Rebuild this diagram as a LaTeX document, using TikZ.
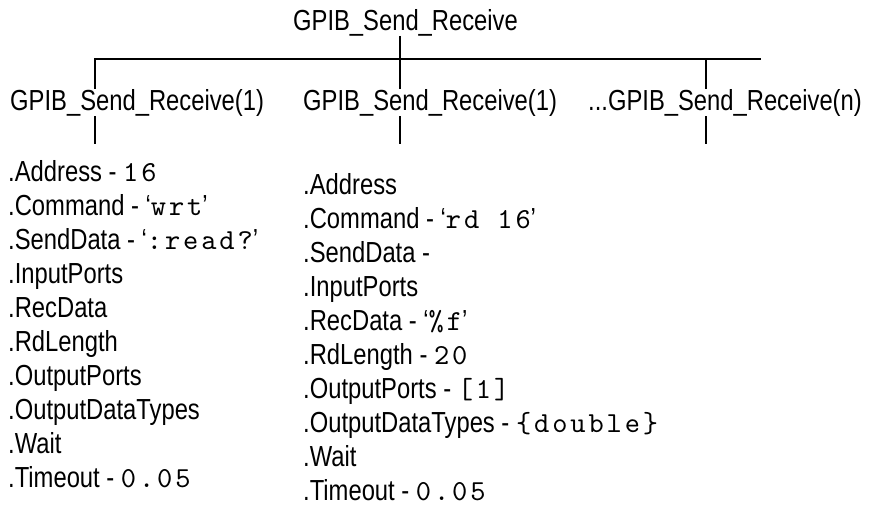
\documentclass[tikz,border=0pt]{standalone}
\usepackage{fontspec}
\setmainfont{Liberation Sans}[FakeStretch=0.82]
\newfontfamily\monofam{lmmono10-regular.otf}[LetterSpace=10]
\newcommand\mono[1]{{\monofam #1}}
\begin{document}
\begin{tikzpicture}[x=1pt,y=1pt,
  txt/.style={anchor=base west, inner sep=0pt, font=\fontsize{29}{29}\selectfont},
  hdr/.style={inner sep=0pt, font=\fontsize{29}{29}\selectfont},
  bar/.style={line width=2.6pt},
  tick/.style={line width=2pt}]
\useasboundingbox (0,0) rectangle (877,-509);
% title and labels
\node[hdr, anchor=base] (title) at (405.5,-30) {GPIB\_Send\_Receive};
\node[hdr, anchor=base west] (c1) at (10,-110) {GPIB\_Send\_Receive(1)};
\node[hdr, anchor=base west] (c2) at (303,-110) {GPIB\_Send\_Receive(1)};
\node[hdr, anchor=base west] (c3) at (588,-110) {...GPIB\_Send\_Receive(n)};
% bar
\coordinate (bl) at (94,-59);
\coordinate (br) at (761,-59);
\coordinate (a1) at (95,-59);
\coordinate (a2) at (400,-59);
\coordinate (a3) at (706,-59);
\coordinate (t1) at (95,-144);
\coordinate (t2) at (400,-144);
\coordinate (t3) at (706,-144);
\draw[bar] (bl) -- (br);
\draw[tick] (a2 |- title.south) -- (a2);
\draw[tick] (a1) -- (a1 |- c1.north);
\draw[tick] (a2) -- (a2 |- c2.north);
\draw[tick] (a3) -- (a3 |- c3.north);
\draw[tick] (a1 |- c1.south) -- (t1);
\draw[tick] (a2 |- c2.south) -- (t2);
\draw[tick] (a3 |- c3.south) -- (t3);
% left list
\node[txt] (l1)  at (8,-181) {.Address - \mono{16}};
\node[txt] (l2)  at (8,-215) {.Command - ‘\mono{wrt}’};
\node[txt] (l3)  at (8,-249) {.SendData - ‘\mono{:read?}’};
\node[txt] (l4)  at (8,-283) {.InputPorts};
\node[txt] (l5)  at (8,-317) {.RecData};
\node[txt] (l6)  at (8,-351) {.RdLength};
\node[txt] (l7)  at (8,-385) {.OutputPorts};
\node[txt] (l8)  at (8,-419) {.OutputDataTypes};
\node[txt] (l9)  at (8,-453) {.Wait};
\node[txt] (l10) at (8,-487) {.Timeout - \mono{0.05}};
% right list
\node[txt] (r1)  at (303,-194) {.Address};
\node[txt] (r2)  at (303,-228) {.Command - ‘\mono{rd 16}’};
\node[txt] (r3)  at (303,-262) {.SendData -};
\node[txt] (r4)  at (303,-296) {.InputPorts};
\node[txt] (r5)  at (303,-330) {.RecData - ‘\mono{\%f}’};
\node[txt] (r6)  at (303,-364) {.RdLength - \mono{20}};
\node[txt] (r7)  at (303,-398) {.OutputPorts - \mono{[1]}};
\node[txt] (r8)  at (303,-432) {.OutputDataTypes - \mono{\{double\}}};
\node[txt] (r9)  at (303,-466) {.Wait};
\node[txt] (r10) at (303,-500) {.Timeout - \mono{0.05}};
\end{tikzpicture}
\end{document}
